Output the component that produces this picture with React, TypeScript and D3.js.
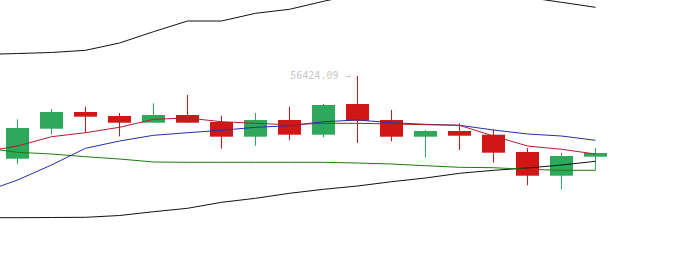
import React from "react";
import * as d3 from "d3";

const W = 680;
const H = 267;

// candle index labels (18 visible sessions)
const sessions = d3.range(18);

const opens = [54770, 55370, 55704, 55624, 55490, 55644, 55504, 55210, 55544, 55250, 55864, 55544, 55210, 55324, 55250, 54904, 54430, 54810];
const closes = [55384, 55704, 55610, 55490, 55644, 55490, 55210, 55544, 55250, 55844, 55530, 55210, 55324, 55230, 54890, 54430, 54824, 54884];
const highs = [55558, 55764, 55810, 55684, 55878, 56044, 55630, 55684, 55810, 55864, 56424.09, 55744, 55344, 55478, 55358, 54984, 54890, 54984];
const lows = [54658, 55254, 55290, 55218, 55490, 55490, 54970, 55030, 55138, 55198, 55084, 55118, 54798, 54944, 54690, 54238, 54158, 54538];

// indicator lines start one session before the first visible candle
const maFast = [54908, 55024, 55210, 55290, 55398, 55558, 55584, 55510, 55478, 55450, 55478, 55478, 55464, 55450, 55438, 55224, 55024, 54958, 54864];
const maMid = [54100, 54344, 54644, 54978, 55124, 55238, 55290, 55338, 55398, 55430, 55510, 55544, 55490, 55458, 55438, 55344, 55264, 55224, 55138];
const maSlow = [54988, 54898, 54864, 54810, 54764, 54704, 54698, 54698, 54698, 54698, 54698, 54684, 54664, 54630, 54598, 54590, 54558, 54538, 54538];
const bollUp = [56854, 56874, 56894, 56938, 57084, 57310, 57524, 57524, 57678, 57758, 57918, 58064, 58144, 58184, 58164, 58104, 57996, 57898, 57798];
const bollDn = [53590, 53590, 53594, 53598, 53634, 53710, 53778, 53898, 53978, 54078, 54158, 54224, 54310, 54384, 54478, 54538, 54584, 54644, 54718];

const UP = "#2ea85a";
const DOWN = "#d11616";

export default function App() {
  if (typeof document !== "undefined") document.body.style.margin = "0";

  const x = d3.scaleLinear().domain([0, 17]).range([17.5, 595.5]);
  const y = d3.scaleLinear().domain([52604.09, 57944.09]).range([H, 0]);
  const bodyW = 23;

  const line = d3
    .line<number>()
    .x((_, i) => x(i - 1))
    .y((v) => y(v));

  const hiIdx = d3.maxIndex(highs);
  const hiVal = highs[hiIdx];

  return (
    <svg
      width={W}
      height={H}
      style={{ position: "absolute", left: 0, top: 0, display: "block" }}
    >
      <g>
        {sessions.map((s, i) => {
          const o = opens[i];
          const c = closes[i];
          const col = c >= o ? UP : DOWN;
          const cx = x(s);
          const top = y(Math.max(o, c));
          const bot = y(Math.min(o, c));
          return (
            <g key={s}>
              <line
                x1={cx}
                x2={cx}
                y1={y(highs[i])}
                y2={y(lows[i])}
                stroke={col}
                strokeWidth={1}
              />
              <rect
                x={cx - bodyW / 2}
                y={top}
                width={bodyW}
                height={Math.max(1, bot - top)}
                fill={col}
              />
            </g>
          );
        })}
      </g>
      <path d={line(bollUp) || ""} fill="none" stroke="#111" strokeWidth={1} />
      <path d={line(bollDn) || ""} fill="none" stroke="#111" strokeWidth={1} />
      <path d={line(maSlow) || ""} fill="none" stroke="#1f7a0f" strokeWidth={1} />
      <path d={line(maMid) || ""} fill="none" stroke="#2230a8" strokeWidth={1} />
      <path d={line(maFast) || ""} fill="none" stroke="#b01e2e" strokeWidth={1} />
      <text
        x={x(hiIdx) - 7}
        y={y(hiVal)}
        textAnchor="end"
        dominantBaseline="middle"
        fill="#c8c8c8"
        style={{ fontFamily: "'DejaVu Sans Mono', monospace", fontSize: 10 }}
      >
        {hiVal.toFixed(2) + " →"}
      </text>
    </svg>
  );
}
